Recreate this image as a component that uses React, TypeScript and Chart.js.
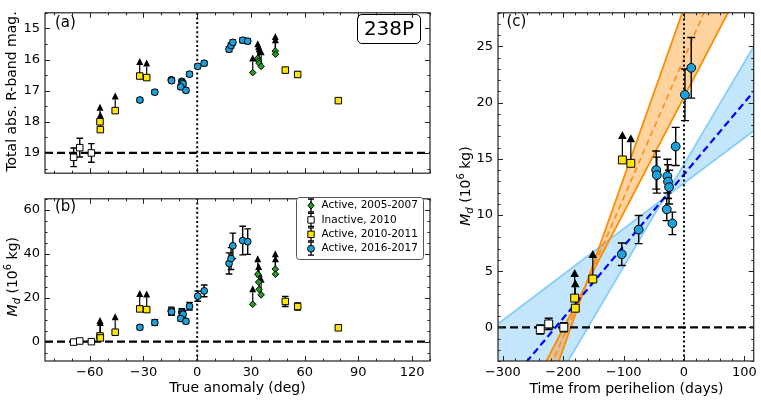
import { useEffect, useRef } from 'react';
import { Chart, registerables } from 'chart.js';

Chart.register(...registerables);

const FONT = 'DejaVu Sans';

// ---- values ----
// Active, 2005-2007 (lower limits)
const greenNu = [31.0, 33.8, 34.3, 34.6, 35.7, 43.6, 43.7];
const greenMag = [16.42, 15.96, 16.05, 16.12, 16.22, 15.73, 15.83];
const greenMd = [17.0, 30.7, 27.1, 23.8, 21.3, 33.0, 30.7];
const greenLimit = [true, true, true, true, true, true, true];

// Inactive, 2010
const whiteNu = [-69.0, -65.6, -59.1];
const whiteMag = [19.14, 18.83, 19.0];
const whiteMagErr = [0.3, 0.3, 0.3];
const whiteMd = [-0.2, 0.3, 0.0];
const whiteMdErr = [0.4, 0.5, 0.4];
const whiteT = [-238, -224, -199];

// Active, 2010-2011
const yellowNu = [-54.3, -54.1, -45.8, -32.1, -28.2, 49.2, 56.1, 78.8];
const yellowMag = [18.0, 18.25, 17.64, 16.53, 16.58, 16.34, 16.48, 17.32];
const yellowMagErr = [0.05, 0.05, 0.05, 0.05, 0.05, 0.08, 0.08, 0.05];
const yellowMd = [2.6, 1.7, 4.3, 14.9, 14.6, 18.3, 16.0, 6.3];
const yellowMdErr = [0.3, 0.3, 0.3, 0.3, 0.3, 2.3, 1.6, 0.5];
const yellowLimit = [true, true, true, true, true, false, false, false];
const yellowT = [-181, -180, -151, -102, -88];

// Active, 2016-2017
const blueNu = [-32.0, -23.7, -14.5, -14.3, -8.6, -8.3, -7.9, -9.2, -6.3, -4.3, 0.3, 3.9, 17.8, 18.9, 19.9, 25.4, 28.2];
const blueMag = [17.3, 17.05, 16.65, 16.68, 16.7, 16.74, 16.78, 16.88, 16.99, 16.47, 16.22, 16.12, 15.67, 15.55, 15.45, 15.38, 15.41];
const blueMagErr = [0.07, 0.07, 0.07, 0.07, 0.07, 0.07, 0.07, 0.07, 0.07, 0.07, 0.07, 0.07, 0.08, 0.08, 0.08, 0.08, 0.08];
const blueMd = [6.5, 8.7, 14.0, 13.55, 13.46, 12.97, 12.48, 10.5, 9.25, 16.1, 20.7, 23.1, 35.6, 37.8, 43.6, 46.0, 45.5];
const blueMdErr = [1.0, 1.25, 1.7, 1.6, 1.5, 1.5, 1.5, 1.0, 1.0, 1.7, 2.3, 2.7, 4.8, 5.0, 5.8, 6.5, 5.8];
const blueT = [-103, -75, -46, -45, -27.5, -26.4, -24.7, -28.5, -19.2, -13.7, 1.6, 12];

// linear fits in panel (c)
const blueBandT = [-308, -33, 115.5];
const blueBandUpper = [0.3, 11.5, 25.0];
const blueBandLower = [-13.6, 11.5, 17.5];
const blueFitT = [-308, 115.5];
const blueFitMd = [-6.1, 21.0];
const orangeBandT = [-260, -163, 100];
const orangeBandUpper = [-6.3, 3.7, 43.6];
const orangeBandLower = [-11.0, 3.7, 30.8];
const orangeFitT = [-260, 100];
const orangeFitMd = [-8.3, 36.3];

// reference levels
const perihelion = 0;
const inactiveMag = 19.0;
const zeroMass = 0;

// axis limits
const nuMin = -85, nuMax = 130;
const magTop = 14.5, magBottom = 19.65;
const mdMinB = -8.8, mdMaxB = 65;
const tMin = -308, tMax = 115.5;
const mdMinC = -3, mdMaxC = 28;

const legendLabels = ['Active, 2005-2007', 'Inactive, 2010', 'Active, 2010-2011', 'Active, 2016-2017'];

const GREEN = '#1f9e1f';
const YELLOW = '#ffe600';
const BLUE = '#1ea0da';
const WHITE = '#ffffff';

const minus = (v: any) => String(v).replace('-', '\u2212');

function axis(min: number, max: number, step: number, extra: any = {}) {
  return {
    type: 'linear',
    min,
    max,
    grid: { display: false, drawTicks: false },
    border: { display: false },
    ticks: {
      stepSize: step,
      includeBounds: false,
      padding: 5,
      maxRotation: 0,
      color: '#000',
      font: { family: FONT, size: 13 },
      callback: (v: any) => minus(v),
    },
    ...extra,
  };
}

function pts(label: string, xs: number[], ys: number[], o: any) {
  return {
    label,
    data: xs.map((x, i) => ({ x, y: ys[i] })),
    showLine: false,
    pointStyle: o.style,
    pointRadius: o.r,
    backgroundColor: o.color,
    borderColor: '#000',
    borderWidth: 1,
    order: o.order,
    err: o.err,
    limit: o.limit,
    arrow: o.arrow,
    cap: o.cap,
  };
}

function line(xs: number[], ys: number[], o: any) {
  return {
    data: xs.map((x, i) => ({ x, y: ys[i] })),
    showLine: true,
    pointRadius: 0,
    borderColor: o.color,
    borderWidth: o.width,
    borderDash: o.dash || [],
    backgroundColor: o.fillColor || 'transparent',
    fill: o.fill || false,
    order: o.order,
    clip: 0,
  };
}

// error bars and lower-limit arrows, drawn right before each point set
const errorBarPlugin = {
  id: 'errbars',
  beforeDatasetDraw(chart: any, args: any) {
    const ds = chart.data.datasets[args.index];
    if (!ds.err && !ds.limit) return;
    const { ctx } = chart;
    const x = chart.scales.x, y = chart.scales.y;
    const arrow = ds.arrow || { len: 18, hw: 3.5, head: 7 };
    const cap = ds.cap || 3.3;
    ctx.save();
    ctx.strokeStyle = '#000';
    ctx.fillStyle = '#000';
    ctx.lineWidth = 1.4;
    ds.data.forEach((p: any, i: number) => {
      const px = x.getPixelForValue(p.x);
      const py = y.getPixelForValue(p.y);
      const e = ds.err ? ds.err[i] : 0;
      if (e > 0) {
        const y1 = y.getPixelForValue(p.y - e);
        const y2 = y.getPixelForValue(p.y + e);
        ctx.beginPath();
        ctx.moveTo(px, y1); ctx.lineTo(px, y2);
        ctx.moveTo(px - cap, y1); ctx.lineTo(px + cap, y1);
        ctx.moveTo(px - cap, y2); ctx.lineTo(px + cap, y2);
        ctx.stroke();
      }
      if (ds.limit && ds.limit[i]) {
        const top = py - arrow.len;
        ctx.lineWidth = 1.2;
        ctx.beginPath();
        ctx.moveTo(px, py); ctx.lineTo(px, top + arrow.head);
        ctx.stroke();
        ctx.beginPath();
        ctx.moveTo(px, top);
        ctx.lineTo(px - arrow.hw, top + arrow.head);
        ctx.lineTo(px + arrow.hw, top + arrow.head);
        ctx.closePath();
        ctx.fill();
        ctx.lineWidth = 1.4;
      }
    });
    ctx.restore();
  },
};

// box round the axes with inward ticks on all four sides
const framePlugin = {
  id: 'frame',
  afterDraw(chart: any, _a: any, o: any) {
    const { ctx, chartArea: a } = chart;
    const x = chart.scales.x, y = chart.scales.y;
    const steps = (min: number, max: number, st: number) => {
      const out: number[] = [];
      for (let k = Math.ceil(min / st - 1e-9); k * st <= max + 1e-9; k++) out.push(k * st);
      return out;
    };
    const major = (v: number, m: number) => Math.abs(v / m - Math.round(v / m)) < 1e-6;
    ctx.save();
    ctx.strokeStyle = '#222';
    ctx.lineWidth = 1;
    ctx.beginPath();
    steps(x.min, x.max, o.xMinor).forEach((v) => {
      const len = major(v, o.xMajor) ? 5 : 2.5;
      const p = Math.round(x.getPixelForValue(v)) + 0.5;
      ctx.moveTo(p, a.bottom); ctx.lineTo(p, a.bottom - len);
      ctx.moveTo(p, a.top); ctx.lineTo(p, a.top + len);
    });
    steps(y.min, y.max, o.yMinor).forEach((v) => {
      const len = major(v, o.yMajor) ? 5 : 2.5;
      const p = Math.round(y.getPixelForValue(v)) + 0.5;
      ctx.moveTo(a.left, p); ctx.lineTo(a.left + len, p);
      ctx.moveTo(a.right, p); ctx.lineTo(a.right - len, p);
    });
    ctx.stroke();
    ctx.lineWidth = 1.2;
    ctx.strokeRect(a.left, a.top, a.right - a.left, a.bottom - a.top);
    ctx.restore();
  },
};

const overlay = (id: string, draw: (ctx: CanvasRenderingContext2D, chart: any) => void) => ({
  id,
  afterDraw(chart: any) {
    const ctx = chart.ctx;
    ctx.save();
    draw(ctx, chart);
    ctx.restore();
  },
});

function text(ctx: CanvasRenderingContext2D, s: string, x: number, y: number, size: number, align: CanvasTextAlign = 'center', rot = 0) {
  ctx.save();
  ctx.translate(x, y);
  ctx.rotate(rot);
  ctx.font = `${size}px "${FONT}"`;
  ctx.fillStyle = '#000';
  ctx.textAlign = align;
  ctx.textBaseline = 'middle';
  ctx.fillText(s, 0, 0);
  ctx.restore();
}

// "M_d (10^6 kg)" with italic M, subscript d and superscript 6
function massLabel(ctx: CanvasRenderingContext2D, cx: number, cy: number) {
  const segs = [
    { t: 'M', size: 14, it: true, dy: 0 },
    { t: 'd', size: 10, it: true, dy: 3 },
    { t: ' (10', size: 14, it: false, dy: 0 },
    { t: '6', size: 10, it: false, dy: -6 },
    { t: ' kg)', size: 14, it: false, dy: 0 },
  ];
  const font = (s: any) => `${s.it ? 'italic ' : ''}${s.size}px "${FONT}"`;
  let w = 0;
  segs.forEach((s) => { ctx.font = font(s); w += ctx.measureText(s.t).width; });
  ctx.save();
  ctx.translate(cx, cy);
  ctx.rotate(-Math.PI / 2);
  ctx.fillStyle = '#000';
  ctx.textAlign = 'left';
  ctx.textBaseline = 'alphabetic';
  let xx = -w / 2;
  segs.forEach((s) => {
    ctx.font = font(s);
    ctx.fillText(s.t, xx, 5 + s.dy);
    xx += ctx.measureText(s.t).width;
  });
  ctx.restore();
}

function roundRect(ctx: CanvasRenderingContext2D, x: number, y: number, w: number, h: number, r: number) {
  ctx.beginPath();
  ctx.moveTo(x + r, y);
  ctx.arcTo(x + w, y, x + w, y + h, r);
  ctx.arcTo(x + w, y + h, x, y + h, r);
  ctx.arcTo(x, y + h, x, y, r);
  ctx.arcTo(x, y, x + w, y, r);
  ctx.closePath();
}

function marker(ctx: CanvasRenderingContext2D, shape: string, x: number, y: number, color: string) {
  ctx.strokeStyle = '#000';
  ctx.lineWidth = 1.3;
  ctx.beginPath();
  ctx.moveTo(x, y - 6.5); ctx.lineTo(x, y + 6.5);
  ctx.moveTo(x - 3, y - 6.5); ctx.lineTo(x + 3, y - 6.5);
  ctx.moveTo(x - 3, y + 6.5); ctx.lineTo(x + 3, y + 6.5);
  ctx.stroke();
  ctx.beginPath();
  if (shape === 'circle') ctx.arc(x, y, 3.4, 0, Math.PI * 2);
  else if (shape === 'square') ctx.rect(x - 3.2, y - 3.2, 6.4, 6.4);
  else { ctx.moveTo(x, y - 3.6); ctx.lineTo(x + 3, y); ctx.lineTo(x, y + 3.6); ctx.lineTo(x - 3, y); ctx.closePath(); }
  ctx.fillStyle = color;
  ctx.fill();
  ctx.lineWidth = 1;
  ctx.stroke();
}

const smallArrow = { len: 18, hw: 3.5, head: 7 };

function configA() {
  return {
    type: 'scatter',
    data: {
      datasets: [
        pts(legendLabels[0], greenNu, greenMag, { style: 'rectRot', r: 3.3, color: GREEN, order: 1, limit: greenLimit, arrow: smallArrow }),
        pts(legendLabels[1], whiteNu, whiteMag, { style: 'rect', r: 4.6, color: WHITE, order: 3, err: whiteMagErr }),
        pts(legendLabels[2], yellowNu, yellowMag, { style: 'rect', r: 4.6, color: YELLOW, order: 2, err: yellowMagErr, limit: yellowLimit, arrow: smallArrow }),
        pts(legendLabels[3], blueNu, blueMag, { style: 'circle', r: 3.4, color: BLUE, order: 0, err: blueMagErr }),
        line([nuMin, nuMax], [inactiveMag, inactiveMag], { color: '#000', width: 2.2, dash: [8, 4], order: 6 }),
        line([perihelion, perihelion], [magTop, magBottom], { color: '#000', width: 2, dash: [2, 2.6], order: 6 }),
      ],
    },
    options: {
      animation: false,
      responsive: false,
      events: [],
      layout: { padding: { top: 6, right: 10, bottom: 9, left: 0 } },
      plugins: {
        legend: { display: false },
        tooltip: { enabled: false },
        frame: { xMajor: 30, xMinor: 10, yMajor: 1, yMinor: 0.5 },
      },
      scales: {
        x: axis(nuMin, nuMax, 30, { display: false }),
        y: axis(magTop, magBottom, 1, { reverse: true, afterFit: (s: any) => { s.width = 45; } }),
      },
    },
    plugins: [
      errorBarPlugin,
      framePlugin,
      overlay('labelsA', (ctx) => {
        text(ctx, 'Total abs. R-band mag.', 12.5, 91.5, 14, 'center', -Math.PI / 2);
        text(ctx, '(a)', 55, 23, 15, 'left');
        ctx.strokeStyle = '#000';
        ctx.lineWidth = 1;
        roundRect(ctx, 357.5, 14.5, 63, 29, 4.5);
        ctx.stroke();
        text(ctx, '238P', 389, 29.5, 20);
      }),
    ],
  };
}

function configB() {
  return {
    type: 'scatter',
    data: {
      datasets: [
        pts(legendLabels[0], greenNu, greenMd, { style: 'rectRot', r: 3.3, color: GREEN, order: 1, limit: greenLimit, arrow: { ...smallArrow, len: 19 } }),
        pts(legendLabels[1], whiteNu, whiteMd, { style: 'rect', r: 4.6, color: WHITE, order: 3, err: whiteMdErr }),
        pts(legendLabels[2], yellowNu, yellowMd, { style: 'rect', r: 4.6, color: YELLOW, order: 2, err: yellowMdErr, limit: yellowLimit, arrow: { ...smallArrow, len: 19 } }),
        pts(legendLabels[3], blueNu, blueMd, { style: 'circle', r: 3.4, color: BLUE, order: 0, err: blueMdErr }),
        line([nuMin, nuMax], [zeroMass, zeroMass], { color: '#000', width: 2.2, dash: [8, 4], order: 6 }),
        line([perihelion, perihelion], [mdMinB, mdMaxB], { color: '#000', width: 2, dash: [2, 2.6], order: 6 }),
      ],
    },
    options: {
      animation: false,
      responsive: false,
      events: [],
      layout: { padding: { top: 4, right: 10, bottom: 0, left: 0 } },
      plugins: {
        legend: { display: false },
        tooltip: { enabled: false },
        frame: { xMajor: 30, xMinor: 10, yMajor: 20, yMinor: 5 },
      },
      scales: {
        x: axis(nuMin, nuMax, 30, { ticks: { ...axis(0, 1, 1).ticks, stepSize: 30, padding: 4 }, afterFit: (s: any) => { s.height = 39; } }),
        y: axis(mdMinB, mdMaxB, 20, { afterFit: (s: any) => { s.width = 45; } }),
      },
    },
    plugins: [
      errorBarPlugin,
      framePlugin,
      overlay('labelsB', (ctx) => {
        massLabel(ctx, 12, 90.7);
        text(ctx, 'True anomaly (deg)', 237.5, 202, 14);
        text(ctx, '(b)', 55, 20.7, 15, 'left');
        // legend
        ctx.fillStyle = '#fff';
        ctx.strokeStyle = '#555';
        ctx.lineWidth = 1;
        roundRect(ctx, 296.5, 11.5, 127, 62, 3);
        ctx.fill();
        ctx.stroke();
        const shapes = ['diamond', 'square', 'square', 'circle'];
        const colors = [GREEN, WHITE, YELLOW, BLUE];
        legendLabels.forEach((lab, i) => {
          const yy = 19.5 + i * 14.4;
          marker(ctx, shapes[i], 311, yy, colors[i]);
          text(ctx, lab, 321.5, yy, 10.5, 'left');
        });
      }),
    ],
  };
}

function configC() {
  const bigArrow = { len: 29, hw: 4.3, head: 8 };
  return {
    type: 'scatter',
    data: {
      datasets: [
        pts(legendLabels[1], whiteT, whiteMd, { style: 'rect', r: 5.6, color: WHITE, order: 2, err: whiteMdErr, cap: 4 }),
        pts(legendLabels[2], yellowT, yellowMd, { style: 'rect', r: 5.6, color: YELLOW, order: 1, limit: yellowLimit, arrow: bigArrow }),
        pts(legendLabels[3], blueT, blueMd, { style: 'circle', r: 4.4, color: BLUE, order: 0, err: blueMdErr, cap: 4 }),
        line([tMin, tMax], [zeroMass, zeroMass], { color: '#000', width: 2.2, dash: [8, 4], order: 5 }),
        line([perihelion, perihelion], [mdMinC, mdMaxC], { color: '#000', width: 2, dash: [2, 2.6], order: 5 }),
        line(blueFitT, blueFitMd, { color: '#0000ff', width: 2.2, dash: [7, 4], order: 6 }),
        line(orangeFitT, orangeFitMd, { color: '#ff8c1a', width: 1.6, dash: [6, 4], order: 6 }),
        line(orangeBandT, orangeBandUpper, { color: '#ff8c00', width: 1.8, fill: '+1', fillColor: 'rgba(255,140,0,0.38)', order: 7 }),
        line(orangeBandT, orangeBandLower, { color: '#ff8c00', width: 1.8, order: 7 }),
        line(blueBandT, blueBandUpper, { color: '#87cefa', width: 1.8, fill: '+1', fillColor: 'rgba(135,206,250,0.5)', order: 9 }),
        line(blueBandT, blueBandLower, { color: '#87cefa', width: 1.8, order: 9 }),
      ],
    },
    options: {
      animation: false,
      responsive: false,
      events: [],
      layout: { padding: { top: 6, right: 6, bottom: 0, left: 0 } },
      plugins: {
        legend: { display: false },
        tooltip: { enabled: false },
        frame: { xMajor: 100, xMinor: 20, yMajor: 5, yMinor: 1 },
      },
      scales: {
        x: axis(tMin, tMax, 100, { ticks: { ...axis(0, 1, 1).ticks, stepSize: 100, padding: 4 }, afterFit: (s: any) => { s.height = 39; } }),
        y: axis(mdMinC, mdMaxC, 5, { afterFit: (s: any) => { s.width = 58; } }),
      },
    },
    plugins: [
      errorBarPlugin,
      framePlugin,
      overlay('labelsC', (ctx) => {
        massLabel(ctx, 25, 186);
        text(ctx, 'Time from perihelion (days)', 186.5, 389, 14);
        text(ctx, '(c)', 66.5, 21.7, 15, 'left');
      }),
    ],
  };
}

function Panel({ make, left, top, width, height }: { make: () => any; left: number; top: number; width: number; height: number }) {
  const ref = useRef<HTMLCanvasElement>(null);
  useEffect(() => {
    if (!ref.current) return;
    const chart = new Chart(ref.current, make());
    return () => chart.destroy();
  }, []);
  return (
    <canvas
      ref={ref}
      width={width}
      height={height}
      style={{ position: 'absolute', left, top, width, height }}
    />
  );
}

export default function App() {
  return (
    <div style={{ position: 'absolute', left: 0, top: 0, width: 761, height: 400, background: '#fff', overflow: 'hidden' }}>
      <Panel make={configA} left={0} top={0} width={440} height={186} />
      <Panel make={configB} left={0} top={186} width={440} height={214} />
      <Panel make={configC} left={440} top={0} width={321} height={400} />
    </div>
  );
}
